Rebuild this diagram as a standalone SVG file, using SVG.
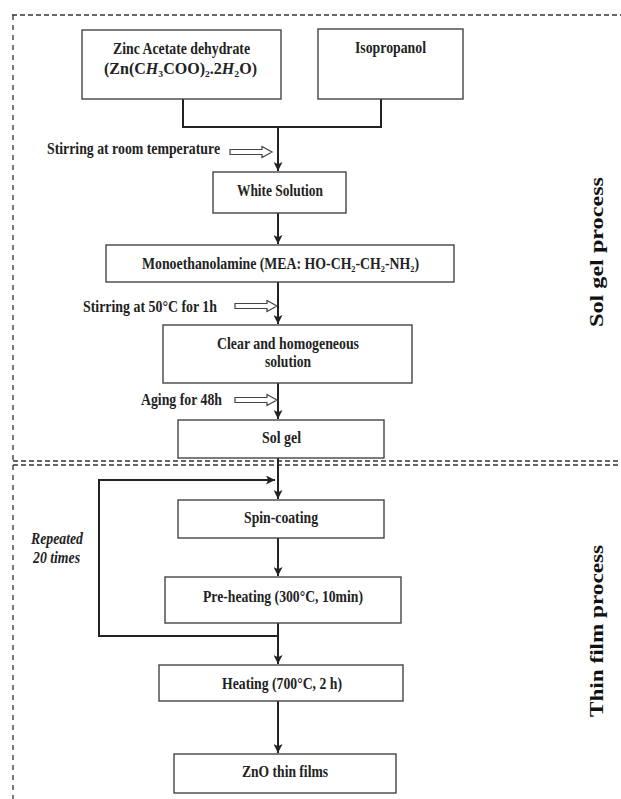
<svg xmlns="http://www.w3.org/2000/svg" width="621" height="799" viewBox="0 0 621 799">
<defs>
<style>
.box{fill:#fff;stroke:#444;stroke-width:1.4}
.t{font-family:"Liberation Serif","Times New Roman",serif;font-weight:bold;font-size:16px;fill:#222;text-anchor:middle;dominant-baseline:central}
.lbl{font-family:"Liberation Serif","Times New Roman",serif;font-weight:bold;font-size:16px;fill:#222;dominant-baseline:central}
.it{font-style:italic}
.side{font-family:"Liberation Serif","Times New Roman",serif;font-weight:bold;font-size:19px;fill:#111;text-anchor:middle;dominant-baseline:central}
.ln{fill:none;stroke:#222;stroke-width:2}
.dash{fill:none;stroke:#333;stroke-width:1.3;stroke-dasharray:5 3}
.hollow{fill:#fff;stroke:#444;stroke-width:1.2}
</style>
<marker id="ah" viewBox="0 0 10 10" refX="10" refY="5" markerWidth="4.5" markerHeight="4.5" orient="auto" markerUnits="strokeWidth">
<path d="M0,0 L10,5 L0,10 L2.5,5 z" fill="#222"/>
</marker>
<polygon id="hol" points="0,-2.5 32,-2.5 32,-5.5 42,0 32,5.5 32,2.5 0,2.5"/>
</defs>
<rect width="621" height="799" fill="#fff"/>

<g id="frame">
<line class="dash" x1="12" y1="15" x2="621" y2="15"/>
<line class="dash" x1="13" y1="15" x2="13" y2="799" style="stroke-dasharray:5 5"/>
<line class="dash" x1="13" y1="461" x2="621" y2="461"/>
<line class="dash" x1="13" y1="465" x2="621" y2="465"/>
</g>

<g id="connectors">
<polyline class="ln" points="183,99 183,127 381,127 381,99"/>
<line class="ln" x1="278" y1="127" x2="278" y2="171" marker-end="url(#ah)"/>
<line class="ln" x1="278" y1="213" x2="278" y2="244" marker-end="url(#ah)"/>
<line class="ln" x1="278" y1="282" x2="278" y2="324" marker-end="url(#ah)"/>
<line class="ln" x1="278" y1="383" x2="278" y2="419" marker-end="url(#ah)"/>
<line class="ln" x1="278" y1="458" x2="278" y2="499" marker-end="url(#ah)"/>
<line class="ln" x1="278" y1="538" x2="278" y2="576" marker-end="url(#ah)"/>
<line class="ln" x1="278" y1="623" x2="278" y2="664" marker-end="url(#ah)"/>
<line class="ln" x1="278" y1="701" x2="278" y2="753" marker-end="url(#ah)"/>
<polyline class="ln" points="278,636 99,636 99,480 275,480" marker-end="url(#ah)"/>
<use href="#hol" class="hollow" x="230" y="152"/>
<use href="#hol" class="hollow" x="235" y="306"/>
<use href="#hol" class="hollow" x="235" y="400"/>
</g>

<g id="zinc">
<rect class="box" x="82" y="30" width="199" height="69"/>
<text class="t" x="181.5" y="48" textLength="137" lengthAdjust="spacingAndGlyphs">Zinc Acetate dehydrate</text>
<text class="t" x="180.5" y="68" textLength="153" lengthAdjust="spacingAndGlyphs">(Zn(C<tspan class="it">H</tspan>₃COO)₂.2<tspan class="it">H</tspan>₂O)</text>
</g>
<g id="isopropanol">
<rect class="box" x="318" y="29" width="145" height="70"/>
<text class="t" x="390.5" y="47" textLength="71" lengthAdjust="spacingAndGlyphs">Isopropanol</text>
</g>
<g id="stir1">
<text class="lbl" x="47" y="148" textLength="173" lengthAdjust="spacingAndGlyphs">Stirring at room temperature</text>
</g>
<g id="white">
<rect class="box" x="213" y="172" width="133" height="41"/>
<text class="t" x="280" y="190" textLength="86" lengthAdjust="spacingAndGlyphs">White Solution</text>
</g>
<g id="mea">
<rect class="box" x="106" y="245" width="348" height="37"/>
<text class="t" x="280.5" y="263" textLength="277" lengthAdjust="spacingAndGlyphs">Monoethanolamine (MEA: HO-CH₂-CH₂-NH₂)</text>
</g>
<g id="stir2">
<text class="lbl" x="83" y="306" textLength="134" lengthAdjust="spacingAndGlyphs">Stirring at 50°C for 1h</text>
</g>
<g id="clear">
<rect class="box" x="163" y="325" width="249" height="58"/>
<text class="t" x="288" y="343" textLength="142" lengthAdjust="spacingAndGlyphs">Clear and homogeneous</text>
<text class="t" x="288" y="361" textLength="46" lengthAdjust="spacingAndGlyphs">solution</text>
</g>
<g id="aging">
<text class="lbl" x="141" y="399" textLength="81" lengthAdjust="spacingAndGlyphs">Aging for 48h</text>
</g>
<g id="solgel">
<rect class="box" x="178" y="420" width="206" height="38"/>
<text class="t" x="281.5" y="437" textLength="39" lengthAdjust="spacingAndGlyphs">Sol gel</text>
</g>
<g id="spin">
<rect class="box" x="178" y="500" width="206" height="38"/>
<text class="t" x="281" y="517" textLength="74" lengthAdjust="spacingAndGlyphs">Spin-coating</text>
</g>
<g id="repeated">
<text class="t it" x="57" y="538" textLength="52" lengthAdjust="spacingAndGlyphs">Repeated</text>
<text class="t it" x="56.5" y="557" textLength="47" lengthAdjust="spacingAndGlyphs">20 times</text>
</g>
<g id="preheat">
<rect class="box" x="165" y="577" width="236" height="46"/>
<text class="t" x="283" y="596" textLength="160" lengthAdjust="spacingAndGlyphs">Pre-heating (300°C, 10min)</text>
</g>
<g id="heating">
<rect class="box" x="159" y="665" width="244" height="36"/>
<text class="t" x="282" y="683" textLength="120" lengthAdjust="spacingAndGlyphs">Heating (700°C, 2 h)</text>
</g>
<g id="zno">
<rect class="box" x="174" y="754" width="222" height="39"/>
<text class="t" x="285" y="771" textLength="86" lengthAdjust="spacingAndGlyphs">ZnO thin films</text>
</g>
<g id="sideLabels">
<text class="side" transform="translate(596,252) rotate(-90)" textLength="150" lengthAdjust="spacingAndGlyphs">Sol gel process</text>
<text class="side" transform="translate(596,631) rotate(-90)" textLength="172" lengthAdjust="spacingAndGlyphs">Thin film process</text>
</g>
</svg>
